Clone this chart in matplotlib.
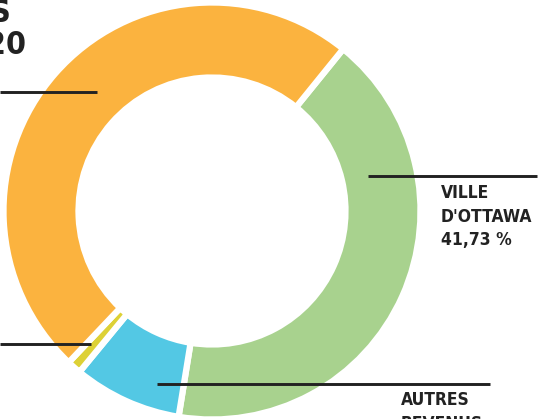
import matplotlib.pyplot as plt

# Donut values (percent), clockwise from the top-right boundary
labels = ["VILLE D'OTTAWA", "AUTRES REVENUS", "AUTRE", "PROVINCE"]
values = [41.73, 8.4, 1.1, 48.77]
colors = ["#A8D28E", "#53C8E4", "#DDD136", "#FBB33F"]

W, H = 539, 419

fig = plt.figure(figsize=(W / 100, H / 100), dpi=100)
ax = fig.add_axes([0, 0, 1, 1])

# Draw the donut
cx, cy = 212, H - 211
ax.pie(values, colors=colors, startangle=51, counterclock=False,
       center=(cx, cy), radius=208.5, frame=True,
       wedgeprops=dict(width=75, edgecolor="white", linewidth=4.5))
ax.set_xlim(0, W)
ax.set_ylim(0, H)
ax.set_aspect("equal")
ax.axis("off")

# Leader lines (pixel coords, y from top)
def hline(x0, x1, y):
    ax.plot([x0, x1], [H - y, H - y], color="#222222", lw=2.1, solid_capstyle="butt")

hline(0, 97, 92)
hline(368, 537, 176)
hline(157, 490, 384)
hline(0, 91, 344)

font = dict(family="DejaVu Sans", fontweight="bold", fontstretch="condensed", color="#222222")

# Title, cut off at the left edge like the reference
ax.text(11, H - 14, "REVENUS", ha="right", va="center", fontsize=23, **font)
ax.text(27, H - 46, "2020", ha="right", va="center", fontsize=23, **font)

ax.text(441, H - 184, "VILLE\nD'OTTAWA\n41,73 %", ha="left", va="top",
        fontsize=12.5, linespacing=1.4, **font)
ax.text(401, H - 391, "AUTRES\nREVENUS", ha="left", va="top",
        fontsize=12.5, linespacing=1.4, **font)

plt.savefig("out.png", dpi=100)
